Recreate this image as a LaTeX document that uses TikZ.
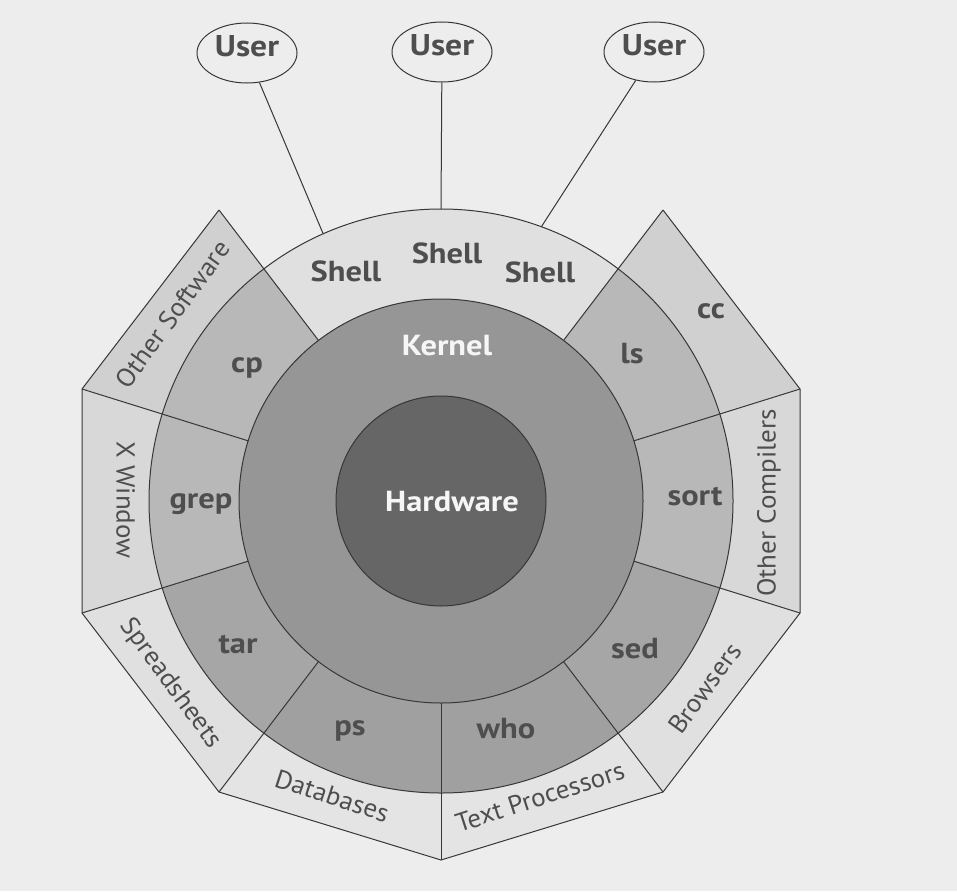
\documentclass[tikz,border=0pt]{standalone}
\usepackage{fontspec}
\setmainfont{PT Sans}
\newfontfamily\labfont{PT Sans}[FakeStretch=1.12]
\newfontfamily\appfont{PT Sans}[FakeStretch=1.04]
\usetikzlibrary{shapes.geometric,calc}
\definecolor{bg}{RGB}{237,237,237}
\definecolor{hwfill}{RGB}{102,102,102}
\definecolor{kfill}{RGB}{150,150,150}
\definecolor{shfill}{RGB}{224,224,224}
\definecolor{cmdA}{RGB}{184,184,184}
\definecolor{cmdB}{RGB}{166,166,166}
\definecolor{cmdC}{RGB}{160,160,160}
\definecolor{outA}{RGB}{208,208,208}
\definecolor{outB}{RGB}{216,216,216}
\definecolor{outC}{RGB}{224,224,224}
\definecolor{outD}{RGB}{228,228,228}
\definecolor{linec}{RGB}{55,55,55}
\definecolor{txt}{RGB}{78,78,78}
\definecolor{wtxt}{RGB}{246,246,246}
\newcommand\ringseg[5]{\fill[#1] (#2:#4) arc[start angle=#2, end angle=#3, radius=#4] -- (#3:#5) arc[start angle=#3, end angle=#2, radius=#5] -- cycle;}
\newcommand\outseg[5]{\fill[#1] #2 -- #3 -- (#5:292pt) arc[start angle=#5, end angle=#4, radius=292pt] -- cycle;}
\begin{document}
\begin{tikzpicture}[x=1pt,y=1pt,
  edge/.style={draw=linec, line width=1pt},
  lab/.style={font=\labfont\bfseries\fontsize{29}{29}\selectfont, text=txt, anchor=base, inner sep=0pt},
  wlab/.style={font=\labfont\bfseries\fontsize{29}{29}\selectfont, text=wtxt, anchor=base, inner sep=0pt},
  olab/.style={font=\appfont\fontsize{26}{26}\selectfont, text=txt, inner sep=0pt, text height=0.7em, text depth=0.2em},
  user/.style={ellipse, draw=linec, line width=1pt, fill=bg, minimum width=100pt, minimum height=60pt, inner sep=0pt,
    font=\labfont\bfseries\fontsize{30}{30}\selectfont, text=txt, text height=0.7em, text depth=0pt}]
\fill[bg] (0,0) rectangle (957,-891);
\useasboundingbox (0,0) rectangle (957,-891);

\begin{scope}[shift={(441,-501)}]
  % decagon vertices
  \coordinate (V1) at (222pt,291pt);
  \coordinate (V2) at (359pt,112pt);
  \coordinate (V3) at (359pt,-112pt);
  \coordinate (V4) at (222pt,-291pt);
  \coordinate (V5) at (0pt,-359pt);
  \coordinate (V6) at (-222pt,-291pt);
  \coordinate (V7) at (-359pt,-112pt);
  \coordinate (V8) at (-359pt,112pt);
  \coordinate (V9) at (-222pt,291pt);
  % outer application segments
  \outseg{outA}{(V1)}{(V2)}{52.66}{17.33}
  \outseg{outB}{(V2)}{(V3)}{17.33}{-17.33}
  \outseg{outC}{(V3)}{(V4)}{-17.33}{-52.66}
  \outseg{outD}{(V4)}{(V5)}{-52.66}{-90}
  \outseg{outD}{(V5)}{(V6)}{-90}{-127.34}
  \outseg{outC}{(V6)}{(V7)}{-127.34}{-162.67}
  \outseg{outB}{(V7)}{(V8)}{-162.67}{-197.33}
  \outseg{outA}{(V8)}{(V9)}{162.67}{127.34}
  % command ring
  \ringseg{cmdA}{17.33}{52.66}{202pt}{292pt}
  \ringseg{shfill}{52.66}{127.34}{202pt}{292pt}
  \ringseg{cmdA}{127.34}{162.67}{202pt}{292pt}
  \ringseg{cmdA}{162.67}{197.33}{202pt}{292pt}
  \ringseg{cmdB}{197.33}{232.66}{202pt}{292pt}
  \ringseg{cmdC}{232.66}{270}{202pt}{292pt}
  \ringseg{cmdC}{270}{307.34}{202pt}{292pt}
  \ringseg{cmdB}{307.34}{342.67}{202pt}{292pt}
  \ringseg{cmdA}{342.67}{377.33}{202pt}{292pt}
  % kernel and hardware
  \fill[kfill] (0,0) circle[radius=202pt];
  \fill[hwfill] (0,0) circle[radius=105pt];
  % outlines
  \draw[edge] (0,0) circle[radius=105pt];
  \draw[edge] (0,0) circle[radius=202pt];
  \draw[edge] (0,0) circle[radius=292pt];
  \draw[edge, line join=miter] (V9) -- (V8) -- (V7) -- (V6) -- (V5) -- (V4) -- (V3) -- (V2) -- (V1);
  \foreach \v in {V1,V2,V3,V4,V5,V6,V7,V8,V9}
    \draw[edge] ($(0,0)!202pt!(\v)$) -- (\v);
  % shell end points of user lines
  \coordinate (e1) at (113.8:292pt);
  \coordinate (e2) at (90:292pt);
  \coordinate (e3) at (69.9:292pt);
\end{scope}

% users
\node[user] (u1) at (247,-53) {User};
\node[user] (u2) at (442,-52) {User};
\node[user] (u3) at (654,-52) {User};
\draw[edge] (u1) -- (e1);
\draw[edge] (u2) -- (e2);
\draw[edge] (u3) -- (e3);

% shell, kernel, hardware
\node[lab] (sh1) at (346,-281) {Shell};
\node[lab] (sh2) at (447,-263) {Shell};
\node[lab] (sh3) at (540,-282) {Shell};
\node[wlab] (kern) at (447,-355) {Kernel};
\node[wlab] (hw) at (452,-511) {Hardware};

% commands
\node[lab] (cp) at (247,-372) {cp};
\node[lab] (grep) at (201,-508) {grep};
\node[lab] (tar) at (238,-653) {tar};
\node[lab] (ps) at (350,-735) {ps};
\node[lab] (who) at (506,-738) {who};
\node[lab] (sed) at (635,-658) {sed};
\node[lab] (sort) at (695,-505) {sort};
\node[lab] (ls) at (632,-363) {ls};
\node[lab] (cc) at (711,-318) {cc};

% applications
\node[olab, rotate=54] (osw) at (178,-318) {Other Software};
\node[olab, rotate=-90] (xw) at (119,-500) {X Window};
\node[olab, rotate=-54] (ssh) at (167,-686) {Spreadsheets};
\node[olab, rotate=-18] (db) at (330,-802) {Databases};
\node[olab, rotate=18] (tp) at (542,-803) {Text Processors};
\node[olab, rotate=54] (br) at (710,-692) {Browsers};
\node[olab, rotate=90] (oc) at (773,-503) {Other Compilers};
\end{tikzpicture}
\end{document}
